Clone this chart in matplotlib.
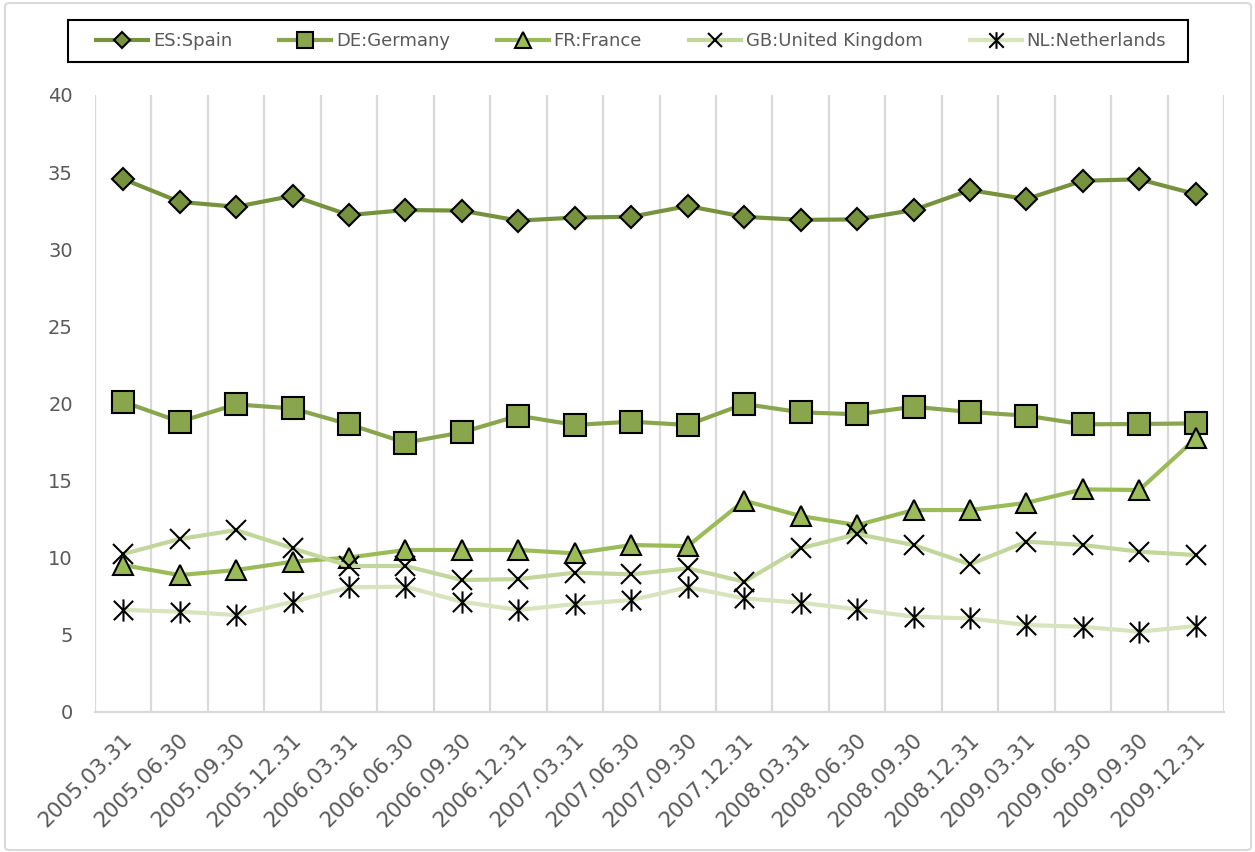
import numpy as np
import matplotlib
matplotlib.use('Agg')
import matplotlib.pyplot as plt
from matplotlib.path import Path
from matplotlib.patches import FancyBboxPatch, Rectangle
import matplotlib.transforms as mtransforms

# quarterly dates
dates = ['2005.03.31', '2005.06.30', '2005.09.30', '2005.12.31',
         '2006.03.31', '2006.06.30', '2006.09.30', '2006.12.31',
         '2007.03.31', '2007.06.30', '2007.09.30', '2007.12.31',
         '2008.03.31', '2008.06.30', '2008.09.30', '2008.12.31',
         '2009.03.31', '2009.06.30', '2009.09.30', '2009.12.31']

spain = [34.55, 33.07, 32.75, 33.46, 32.21, 32.54, 32.5, 31.85, 32.05, 32.1,
         32.8, 32.1, 31.9, 31.93, 32.54, 33.83, 33.25, 34.44, 34.53, 33.57]
germany = [20.1, 18.81, 19.93, 19.67, 18.64, 17.45, 18.12, 19.2, 18.6, 18.81,
           18.6, 19.96, 19.42, 19.29, 19.78, 19.44, 19.2, 18.64, 18.66, 18.7]
france = [9.51, 8.86, 9.19, 9.73, 10.0, 10.49, 10.49, 10.49, 10.27, 10.81,
          10.74, 13.69, 12.69, 12.1, 13.08, 13.08, 13.55, 14.42, 14.38, 17.73]
uk = [10.23, 11.2, 11.78, 10.6, 9.45, 9.45, 8.54, 8.6, 9.02, 8.91,
      9.3, 8.43, 10.6, 11.52, 10.81, 9.56, 11.03, 10.81, 10.38, 10.16]
netherlands = [6.6, 6.49, 6.27, 7.13, 8.07, 8.11, 7.13, 6.6, 6.98, 7.24,
               8.07, 7.35, 7.07, 6.64, 6.16, 6.05, 5.62, 5.51, 5.19, 5.56]

labels = ['ES:Spain', 'DE:Germany', 'FR:France', 'GB:United Kingdom', 'NL:Netherlands']

# Excel-like star marker: an X with a vertical bar
star = Path([(-1, -1), (1, 1), (-1, 1), (1, -1), (0, -1.15), (0, 1.15)],
            [Path.MOVETO, Path.LINETO, Path.MOVETO, Path.LINETO, Path.MOVETO, Path.LINETO])

series = [
    (spain, '#76923C', 'D', 11.5, '#76923C'),
    (germany, '#8AA64D', 's', 16, '#8AA64D'),
    (france, '#9BBB59', '^', 15, '#9BBB59'),
    (uk, '#C3D69B', 'x', 14, 'none'),
    (netherlands, '#D7E4BD', star, 16, 'none'),
]

plt.rcParams['font.family'] = 'DejaVu Sans'
fig = plt.figure(figsize=(12.55, 8.52), dpi=100)
ax = fig.add_axes([95 / 1255, 1 - 711.7 / 852, (1224 - 95) / 1255, (711.7 - 95) / 852])

x = np.arange(len(dates))
handles = []
for vals, col, mk, ms, fc in series:
    h, = ax.plot(x, vals, color=col, lw=3, marker=mk, markersize=ms,
                 markerfacecolor=fc, markeredgecolor='black', markeredgewidth=1.5,
                 solid_joinstyle='round', clip_on=False)
    handles.append(h)

ax.set_xlim(-0.5, len(dates) - 0.5)
ax.set_ylim(0, 40)
ax.set_yticks(range(0, 41, 5))
ax.tick_params(axis='y', length=0, pad=16, labelsize=14, labelcolor='#595959')
ax.set_xticks(x)
ax.set_xticklabels(dates, rotation=45, ha='right', va='center',
                   rotation_mode='anchor', fontsize=15.5, color='#595959')
ax.tick_params(axis='x', length=0, pad=18)
offset = mtransforms.ScaledTranslation(6 / 100, 0, fig.dpi_scale_trans)
for lab in ax.get_xticklabels():
    lab.set_transform(lab.get_transform() + offset)

# vertical gridlines on category boundaries
for b in np.arange(-0.5, len(dates), 1.0):
    ax.axvline(b, color='#D9D9D9', lw=1.6, zorder=0)
for s in ['top', 'right', 'left']:
    ax.spines[s].set_visible(False)
ax.spines['bottom'].set_color('#D9D9D9')
ax.spines['bottom'].set_linewidth(1.6)

leg = fig.legend(handles, labels, loc='center', ncol=5,
                 bbox_to_anchor=(631 / 1255, 1 - 41 / 852), fontsize=13,
                 frameon=False, handlelength=2.9, markerscale=0.75,
                 columnspacing=2.6, handletextpad=0.25, borderaxespad=0)
for t in leg.get_texts():
    t.set_color('#595959')

# legend box
fig.patches.append(Rectangle((68 / 1255, 1 - 62 / 852), 1120 / 1255, 42 / 852,
                             transform=fig.transFigure, fill=False,
                             edgecolor='black', lw=1.5))

# chart area border
fig.patches.append(FancyBboxPatch((5 / 1255, 2 / 852), 1246 / 1255, 847 / 852,
                                  boxstyle='round,pad=0,rounding_size=0.004',
                                  transform=fig.transFigure, fill=False,
                                  edgecolor='#D9D9D9', lw=1.5))

fig.savefig('out.png', dpi=100)
